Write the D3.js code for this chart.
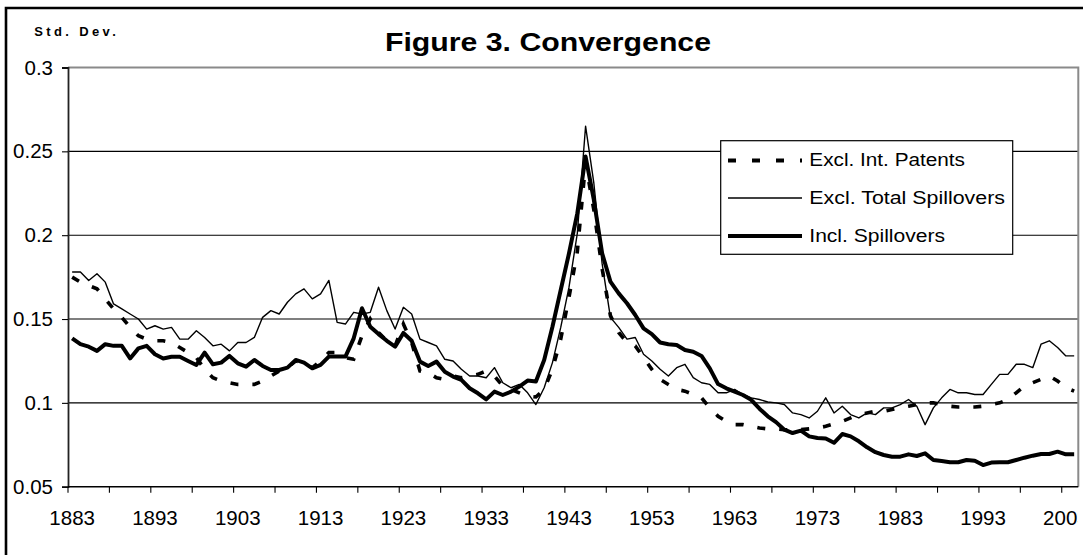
<!DOCTYPE html>
<html>
<head>
<meta charset="utf-8">
<script src="https://cdn.jsdelivr.net/npm/d3@7"></script>
<style>
  html, body { margin: 0; padding: 0; background: #fff; }
  svg { display: block; }
  text { font-family: "Liberation Sans", Arial, sans-serif; fill: #000; }
</style>
</head>
<body>
<svg id="chart" width="1083" height="555"></svg>
<script>
// ---------- DATA ----------
const startYear = 1883;
const endYear = 2004;
const years = d3.range(startYear, endYear + 1);

const xTickLabels = [1883, 1893, 1903, 1913, 1923, 1933, 1943, 1953, 1963, 1973, 1983, 1993, 2003];
const yTicks = [0.05, 0.1, 0.15, 0.2, 0.25, 0.3];
const yTickLabels = ["0.05", "0.1", "0.15", "0.2", "0.25", "0.3"];

const seriesNames = ["Excl. Int. Patents", "Excl. Total Spillovers", "Incl. Spillovers"];

const exclIntPatents = [
  0.175, 0.172, 0.170, 0.168, 0.162, 0.156, 0.151, 0.145, 0.140, 0.138,
  0.137, 0.137, 0.136, 0.133, 0.130, 0.127, 0.120, 0.115, 0.113, 0.112,
  0.111, 0.111, 0.111, 0.113, 0.116, 0.119, 0.121, 0.125, 0.124, 0.121,
  0.125, 0.130, 0.130, 0.127, 0.126, 0.140, 0.150, 0.142, 0.137, 0.134,
  0.147, 0.136, 0.119, 0.118, 0.115, 0.114, 0.116, 0.115, 0.116, 0.117,
  0.119, 0.116, 0.110, 0.108, 0.106, 0.104, 0.1035, 0.108, 0.120, 0.138,
  0.163, 0.190, 0.243, 0.215, 0.180, 0.152, 0.142, 0.136, 0.134, 0.127,
  0.120, 0.114, 0.111, 0.108, 0.107, 0.105, 0.103, 0.097, 0.092, 0.089,
  0.087, 0.087, 0.086, 0.085, 0.0845, 0.0845, 0.084, 0.084, 0.084, 0.0845,
  0.085, 0.086, 0.0875, 0.089, 0.091, 0.093, 0.094, 0.095, 0.095, 0.096,
  0.097, 0.098, 0.099, 0.100, 0.100, 0.099, 0.098, 0.0975, 0.0975, 0.0975,
  0.098, 0.099, 0.100, 0.102, 0.106, 0.110, 0.112, 0.114, 0.116, 0.113,
  0.109, 0.107
];

const exclTotalSpillovers = [
  0.178, 0.178, 0.173, 0.177, 0.172, 0.159, 0.156, 0.153, 0.150, 0.144,
  0.146, 0.144, 0.145, 0.138, 0.138, 0.143, 0.139, 0.134, 0.135, 0.131,
  0.136, 0.136, 0.139, 0.151, 0.155, 0.153, 0.160, 0.165, 0.168, 0.162,
  0.165, 0.173, 0.148, 0.147, 0.154, 0.153, 0.154, 0.169, 0.155, 0.144,
  0.157, 0.153, 0.138, 0.136, 0.134, 0.126, 0.125, 0.120, 0.116, 0.116,
  0.115, 0.121, 0.112, 0.109, 0.111, 0.106, 0.099, 0.109, 0.124, 0.145,
  0.169, 0.201, 0.265, 0.231, 0.183, 0.151, 0.145, 0.138, 0.139, 0.129,
  0.125, 0.120, 0.116, 0.121, 0.123, 0.115, 0.112, 0.111, 0.106, 0.106,
  0.108, 0.105, 0.103, 0.102, 0.1005, 0.100, 0.099, 0.094, 0.093, 0.091,
  0.095, 0.103, 0.094, 0.098, 0.093, 0.091, 0.094, 0.093, 0.097, 0.097,
  0.099, 0.102, 0.098, 0.087, 0.097, 0.103, 0.108, 0.106, 0.106, 0.105,
  0.105, 0.111, 0.117, 0.117, 0.123, 0.123, 0.121, 0.135, 0.137, 0.133,
  0.128, 0.128
];

const inclSpillovers = [
  0.1385, 0.135, 0.1335, 0.131, 0.135, 0.134, 0.134, 0.1265, 0.1325, 0.134,
  0.129, 0.1265, 0.1275, 0.1275, 0.125, 0.1226, 0.130, 0.123, 0.124, 0.128,
  0.1236, 0.1216, 0.1256, 0.122, 0.1196, 0.1196, 0.121, 0.1256, 0.124, 0.1206,
  0.1226, 0.1276, 0.1276, 0.1276, 0.1385, 0.1564, 0.1454, 0.141, 0.137, 0.1335,
  0.1417, 0.137, 0.1246, 0.122, 0.1246, 0.1186, 0.1157, 0.1137, 0.1087, 0.1057,
  0.1021, 0.1067, 0.1047, 0.1067, 0.1097, 0.1133, 0.1127, 0.1256, 0.1454, 0.1673,
  0.1892, 0.213, 0.2469, 0.221, 0.1892, 0.1723, 0.1653, 0.1594, 0.1524, 0.1444,
  0.141, 0.136, 0.135, 0.1345, 0.1315, 0.1305, 0.128, 0.1206, 0.1112, 0.1087,
  0.1067, 0.1047, 0.1018, 0.0965, 0.092, 0.0885, 0.084, 0.082, 0.0834, 0.080,
  0.079, 0.0787, 0.0762, 0.0814, 0.080, 0.0771, 0.0735, 0.0706, 0.0689, 0.0679,
  0.0679, 0.0693, 0.0683, 0.0699, 0.0659, 0.0653, 0.0646, 0.0646, 0.0659, 0.0655,
  0.0629, 0.0644, 0.0646, 0.0646, 0.0659, 0.0673, 0.0685, 0.0695, 0.0695, 0.0709,
  0.0693, 0.0693
];

// ---------- LAYOUT ----------
const svg = d3.select("#chart");
const plot = { left: 68, right: 1078.3, top: 67.5, bottom: 486.7 };

const x = d3.scaleBand().domain(years).range([plot.left, plot.right]).padding(0);
const y = d3.scaleLinear().domain([0.05, 0.3]).range([plot.bottom, plot.top]);
const cx = d => x(d) + x.bandwidth() / 2;

// outer chart border (only top/left visible in the crop)
svg.append("path")
  .attr("d", "M6,560 V8 H1090")
  .attr("fill", "none").attr("stroke", "#000").attr("stroke-width", 2.6);

// clip for axis labels at the plot's right edge (as in the cropped original)
const defs = svg.append("defs");
defs.append("clipPath").attr("id", "clipR")
  .append("rect").attr("x", 0).attr("y", 0).attr("width", 1078).attr("height", 555);

// gridlines (0.1..0.25)
svg.append("g").selectAll("line")
  .data(yTicks.filter(v => v > 0.05 && v < 0.3))
  .join("line")
  .attr("x1", plot.left).attr("x2", plot.right)
  .attr("y1", d => y(d)).attr("y2", d => y(d))
  .attr("stroke", "#000").attr("stroke-width", 1.1);

// plot area border (top and right, grey)
svg.append("path")
  .attr("d", `M${plot.left},${y(0.3)} H${plot.right} V${plot.bottom}`)
  .attr("fill", "none").attr("stroke", "#8a8a8a").attr("stroke-width", 2);

// Y axis
const yAxis = d3.axisLeft(y).tickValues(yTicks)
  .tickFormat((d, i) => yTickLabels[i]).tickSize(6).tickPadding(9);
const gy = svg.append("g").attr("transform", `translate(${plot.left},0)`).call(yAxis);
gy.select(".domain").attr("stroke", "#222").attr("stroke-width", 1.8);
gy.selectAll(".tick line").attr("stroke", "#000").attr("stroke-width", 1.1);
gy.selectAll(".tick text")
  .attr("font-family", "Liberation Sans, Arial, sans-serif")
  .attr("font-size", 20.5).attr("fill", "#000").attr("dy", "0.32em");

// X axis: labels every 10 years, centered on category
const xAxis = d3.axisBottom(x).tickValues(xTickLabels).tickSize(0).tickPadding(0);
const gx = svg.append("g").attr("transform", `translate(0,${plot.bottom})`)
  .attr("clip-path", "url(#clipR)").call(xAxis);
gx.select(".domain").remove();
gx.selectAll(".tick text")
  .attr("font-family", "Liberation Sans, Arial, sans-serif")
  .attr("font-size", 20.5).attr("fill", "#000")
  .attr("y", 38.3).attr("dy", 0);

// X axis line and tick marks every 5 categories (between categories)
svg.append("line")
  .attr("x1", plot.left).attr("x2", plot.right)
  .attr("y1", plot.bottom).attr("y2", plot.bottom)
  .attr("stroke", "#000").attr("stroke-width", 1.5);
svg.append("g").selectAll("line")
  .data(years.filter((d, i) => i % 5 === 0))
  .join("line")
  .attr("x1", d => x(d)).attr("x2", d => x(d))
  .attr("y1", plot.bottom).attr("y2", plot.bottom + 6)
  .attr("stroke", "#000").attr("stroke-width", 1.1);

// series lines
const line = d3.line().x((d, i) => cx(years[i])).y(d => y(d));
svg.append("path").datum(exclTotalSpillovers).attr("d", line)
  .attr("fill", "none").attr("stroke", "#000").attr("stroke-width", 1.4)
  .attr("stroke-linejoin", "round");
svg.append("path").datum(exclIntPatents).attr("d", line)
  .attr("fill", "none").attr("stroke", "#000").attr("stroke-width", 3.6)
  .attr("stroke-dasharray", "8,14");
svg.append("path").datum(inclSpillovers).attr("d", line)
  .attr("fill", "none").attr("stroke", "#000").attr("stroke-width", 4)
  .attr("stroke-linejoin", "round");

// title
svg.append("text")
  .attr("x", 548).attr("y", 50.7).attr("text-anchor", "middle")
  .attr("font-weight", "bold").attr("font-size", 25)
  .attr("textLength", 326).attr("lengthAdjust", "spacingAndGlyphs")
  .text("Figure 3. Convergence");

// y-axis unit label
svg.append("text")
  .attr("x", 34.3).attr("y", 35.5)
  .style("font-weight", "700").attr("font-size", 13)
  .attr("textLength", 81.5).attr("lengthAdjust", "spacing")
  .text("Std. Dev.");

// legend
const legend = svg.append("g");
legend.append("rect")
  .attr("x", 720.7).attr("y", 140.7).attr("width", 292).attr("height", 113.6)
  .attr("fill", "#fff").attr("stroke", "#000").attr("stroke-width", 1.2);
const legendStyles = [
  { w: 3.8, dash: "8,16" },
  { w: 1.4, dash: null },
  { w: 4, dash: null }
];
const legendWidths = [155.7, 195.7, 135.7];
const rowY = [160.5, 198, 236];
seriesNames.forEach((name, i) => {
  legend.append("line")
    .attr("x1", 728).attr("x2", 802).attr("y1", rowY[i]).attr("y2", rowY[i])
    .attr("stroke", "#000").attr("stroke-width", legendStyles[i].w)
    .attr("stroke-dasharray", legendStyles[i].dash);
  legend.append("text")
    .attr("x", 809.3).attr("y", rowY[i] + 5.8)
    .attr("font-size", 17.5)
    .attr("textLength", legendWidths[i]).attr("lengthAdjust", "spacingAndGlyphs")
    .text(name);
});
</script>
</body>
</html>
